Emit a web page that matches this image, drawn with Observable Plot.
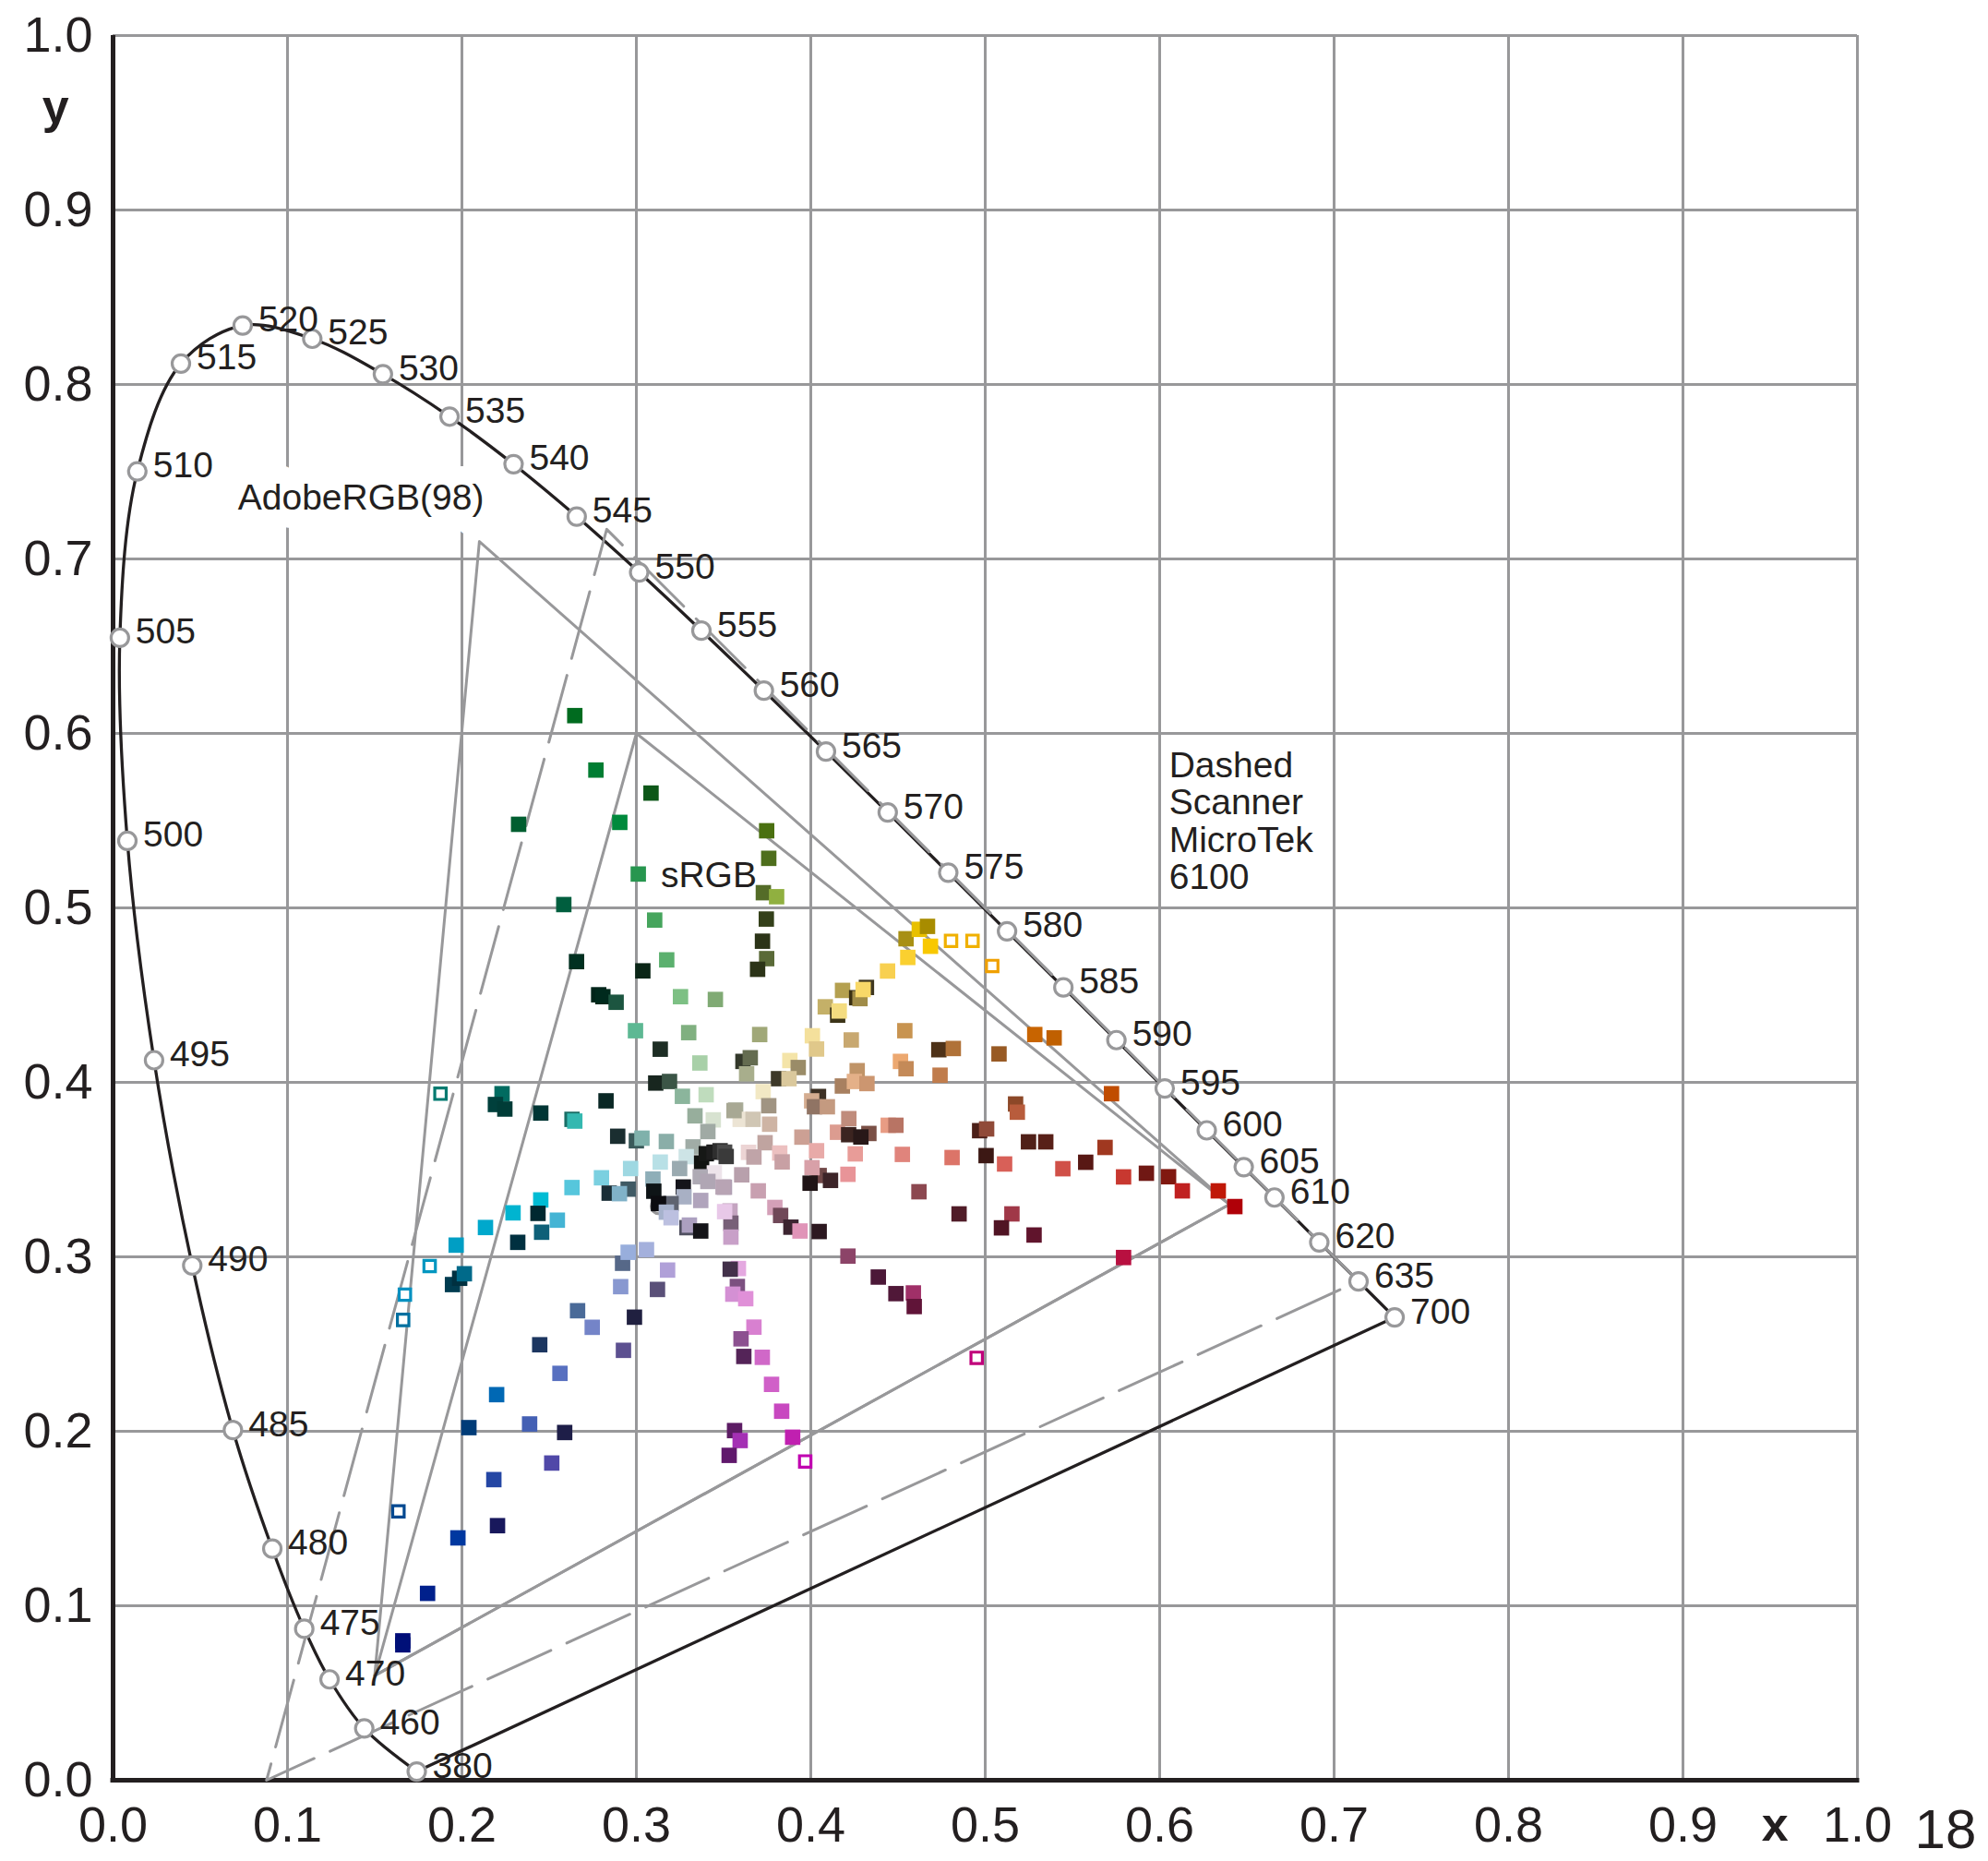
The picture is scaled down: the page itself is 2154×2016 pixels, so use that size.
<!DOCTYPE html>
<html>
<head>
<meta charset="utf-8">
<script src="https://cdn.jsdelivr.net/npm/d3@7"></script>
<script src="https://cdn.jsdelivr.net/npm/@observablehq/plot@0.6"></script>
<style>
  html, body { margin: 0; padding: 0; background: #ffffff; }
  #chart svg { display: block; }
</style>
</head>
<body>
<div id="chart"></div>
<script>
// ---------- spectral locus (CIE 1931 x,y) ----------
const wavelengths = [380,460,470,475,480,485,490,495,500,505,510,515,520,525,530,535,540,545,550,555,560,565,570,575,580,585,590,595,600,605,610,620,635,700];
const locusX = [0.1741,0.1440,0.1241,0.1096,0.0913,0.0687,0.0454,0.0235,0.0082,0.0039,0.0139,0.0389,0.0743,0.1142,0.1547,0.1929,0.2296,0.2658,0.3016,0.3373,0.3731,0.4087,0.4441,0.4788,0.5125,0.5448,0.5752,0.6029,0.6270,0.6482,0.6658,0.6915,0.7140,0.7347];
const locusY = [0.0050,0.0297,0.0578,0.0868,0.1327,0.2007,0.2950,0.4127,0.5384,0.6548,0.7502,0.8120,0.8338,0.8262,0.8059,0.7816,0.7543,0.7243,0.6923,0.6589,0.6245,0.5896,0.5547,0.5202,0.4866,0.4544,0.4242,0.3965,0.3725,0.3514,0.3340,0.3083,0.2859,0.2653];

// ---------- gamut triangles: R, G, B ----------
const gamutNames = ["sRGB", "AdobeRGB(98)", "Scanner MicroTek 6100"];
const gamutRx = [0.640, 0.640, 0.714];
const gamutRy = [0.330, 0.330, 0.286];
const gamutGx = [0.300, 0.210, 0.283];
const gamutGy = [0.600, 0.710, 0.717];
const gamutBx = [0.150, 0.150, 0.088];
const gamutBy = [0.060, 0.060, 0.000];
const gamutDashed = [false, false, true];

// ---------- white point marker ----------
const whiteX = [0.3127];
const whiteY = [0.3290];

// ---------- measured colour samples (filled squares) ----------
const sampleX = [
  0.2647,0.2768,0.3084,0.2325,0.2905,0.3011,0.2584,0.3105,0.2657,0.3174,0.3037,0.2784,0.2808,0.2884,0.3253,0.3453,0.2995,0.3300,0.3137,0.3364,
  0.3747,0.3759,0.3728,0.3804,0.3745,0.3723,0.3747,0.3695,0.3707,
  0.4009,0.4232,0.4083,0.4154,0.4163,0.4182,0.4263,0.4282,0.4319,0.4300,0.4440,0.4556,0.4546,0.4622,0.4669,0.4686,0.4539,0.5284,0.5395,0.5724,
  0.3611,0.3653,0.3632,0.3880,0.3928,0.4033,0.3815,0.3875,0.3727,0.3759,0.3569,0.3595,0.3669,0.3764,0.4044,0.4005,0.4021,0.4095,0.3949,0.3738,
  0.3643,0.3674,0.3822,0.3836,0.3604,0.3505,0.3699,0.3537,0.3542,0.3542,0.3794,0.3827,0.3886,0.3938,0.4048,0.4007,0.3996,0.4113,0.4033,0.4153,
  0.4217,0.4333,0.4287,0.4255,0.4213,0.4181,0.4266,0.4250,0.4322,0.4218,0.4444,0.4488,0.4525,0.4620,0.4514,0.4546,0.4734,0.4817,0.4741,0.5079,
  0.5174,0.5184,0.4968,0.5008,0.5248,0.5347,0.4810,0.5005,0.5111,0.4850,0.5153,0.5093,0.5280,0.4048,0.4213,0.3585,0.3538,0.3579,0.3553,0.3627,
  0.3674,0.3600,0.3616,0.3722,0.4387,0.4488,0.4588,0.4593,
  0.3775,0.3833,0.3563,0.3595,0.3532,0.3896,
  0.5687,0.5445,0.5576,0.5793,0.5924,0.6051,0.6130,0.6336,0.6431,0.5793,
  0.2230,0.2192,0.2246,0.2452,0.2631,0.2647,0.2826,0.3111,0.3190,0.3264,0.3400,0.3336,0.3441,0.3560,0.3410,0.2893,0.3000,0.3032,0.3172,0.3325,
  0.3286,0.3374,0.3401,0.3445,0.3480,0.3506,0.3515,0.3447,0.2967,0.3137,0.3248,0.2800,0.2631,0.3095,0.3366,0.3410,0.3497,0.2844,0.2953,0.2903,
  0.3100,0.3269,0.3273,0.3369,0.3199,0.3127,0.3172,0.3199,0.3506,0.3290,0.3304,0.3369,
  0.2547,0.2452,0.2436,0.2293,0.2457,0.2135,0.2320,0.1967,0.1946,0.1987,0.2014,0.2921,0.2953,0.3058,0.3179,0.2910,0.3121,0.2663,0.2747,0.2989,
  0.2446,0.2926,0.2562,0.2199,0.2040,0.2388,0.2589,
  0.2515,0.2183,0.2204,0.1977,0.1803,0.1661,0.1661
];
const sampleY = [
  0.6102,0.5790,0.5658,0.5479,0.5490,0.5194,0.5019,0.4930,0.4692,0.4702,0.4639,0.4502,0.4491,0.4459,0.4491,0.4475,0.4296,0.4285,0.4190,0.4111,
  0.5442,0.5284,0.5087,0.5064,0.4936,0.4809,0.4709,0.4648,0.4274,
  0.4267,0.4243,0.4433,0.4385,0.4409,0.4527,0.4485,0.4480,0.4544,0.4532,0.4638,0.4716,0.4823,0.4877,0.4894,0.4780,0.4296,0.4274,0.4255,0.3935,
  0.4120,0.4141,0.4049,0.4125,0.4085,0.4191,0.4021,0.4021,0.3947,0.3866,0.3841,0.3788,0.3788,0.3760,0.3919,0.3894,0.3860,0.3860,0.3686,0.3654,
  0.3599,0.3572,0.3595,0.3544,0.3470,0.3399,0.3378,0.3263,0.3193,0.3113,0.3283,0.3237,0.3170,0.3148,0.3466,0.3511,0.3422,0.3438,0.3608,0.3714,
  0.3700,0.3707,0.3687,0.3590,0.3473,0.3979,0.4067,0.4005,0.3993,0.3792,0.3754,0.3754,0.3587,0.3373,0.4120,0.4078,0.4187,0.4194,0.4041,0.4163,
  0.3876,0.3829,0.3723,0.3733,0.3659,0.3659,0.3569,0.3580,0.3532,0.3246,0.3246,0.3166,0.3125,0.3145,0.3004,0.2933,0.2929,0.2830,0.2786,0.2760,
  0.2597,0.2530,0.2429,0.2424,0.2884,0.2789,0.2793,0.2715,
  0.2269,0.2115,0.2004,0.1947,0.1862,0.1966,
  0.3627,0.3505,0.3542,0.3458,0.3479,0.3459,0.3378,0.3378,0.3288,0.2996,
  0.3935,0.3873,0.3847,0.3824,0.3788,0.3778,0.3894,0.3996,0.4005,0.3920,0.3929,0.3808,0.3785,0.3838,0.3718,0.3691,0.3665,0.3680,0.3661,0.3630,
  0.3574,0.3538,0.3591,0.3600,0.3608,0.3600,0.3575,0.3481,0.3506,0.3543,0.3506,0.3453,0.3397,0.3446,0.3459,0.3432,0.3400,0.3365,0.3388,0.3362,
  0.3376,0.3400,0.3344,0.3323,0.3305,0.3305,0.3256,0.3224,0.3259,0.3167,0.3182,0.3148,
  0.3210,0.3326,0.3249,0.3252,0.3141,0.3168,0.3083,0.3067,0.2841,0.2877,0.2903,0.2963,0.3026,0.3041,0.2924,0.2829,0.2813,0.2691,0.2596,0.2654,
  0.2496,0.2464,0.2332,0.2210,0.2021,0.2042,0.1993,
  0.1818,0.1723,0.1459,0.1389,0.1071,0.0799,0.0776
];
const sampleColor = [
  "#006b1f","#007d32","#0d5718","#005e30","#008a3c","#27964f","#005e3e","#46a55d","#003020","#5bb06e","#0b2617","#00251a","#002a1d","#1c5540","#7dc084","#80aa74","#5db893","#80b080","#1d2d24","#a8d0a8",
  "#4a7010","#4e6e1c","#546c28","#90b040","#34401a","#2c3418","#5a6a38","#2c3418","#a0a878",
  "#f4e09c","#c8a870","#c4b068","#3c3418","#f4dc80","#b4a050","#3a3012","#a08c48","#403820","#f8d868","#f8d050","#fad030","#a89014","#e8c000","#a88c00","#f8c800","#c89450","#c86400","#c06000","#c04c00",
  "#33382a","#646c50","#a8ae8c","#f4e4a8","#9a8c68","#e0c88a","#3c3828","#dac89c","#f2e8c4","#a09482","#a8ac98","#ece4d4","#d0c6b4","#ceb4a4","#3c3024","#d4ac90","#907464","#c49a80","#cca094","#c0a4a0",
  "#ecd4d4","#c0a4a8","#ecc0c0","#c8a0a4","#b8a0ac","#b0a0b4","#c8a0b0","#c4a4c0","#786078","#c8a0c8","#d4a0b8","#704858","#3c2430","#e094b8","#704848","#d8a0a8","#201416","#3c2428","#e8aaa8","#dc9c90",
  "#3c2420","#7a5046","#281818","#e89c98","#e89498","#a88060","#c09468","#e4b088","#cc9670","#c08c7c","#e89c84","#b87464","#e0847c","#8c4850","#eca870","#c48a58","#4e3218","#b07238","#c07c4c","#985a24",
  "#8c4828","#b85c3c","#4c2018","#904a38","#502018","#582018","#dc7468","#3c1814","#d86058","#501c28","#a03848","#501424","#60142c","#2c1820","#8c4468","#e4a8e0","#43314a","#7c5080","#d490d4","#e090d8",
  "#d880d0","#8c5090","#542458","#d068c8","#4c1838","#501838","#a03068","#601438",
  "#d060c8","#c848c0","#5c1c64","#a430b4","#60186c","#c020b0",
  "#a03820","#d05048","#581814","#c83830","#701814","#801810","#c02020","#c01808","#b00008","#b81040",
  "#006b60","#00403c","#003c37","#003534","#1a6e66","#34b8b0","#0a2825","#18261f","#3b5546","#8bb59c","#bfdcbd","#97ae9c","#d7e2d0","#a8a894","#a0aaa4","#1a2e30","#3a5a5a","#7fb1ab","#8aaea8","#a0aca6",
  "#cde4e6","#111411","#161816","#1e1e1e","#2e2e2e","#4a4a4a","#3a3a3a","#ede4ea","#9ed8e2","#b8e0e6","#9aaab0","#7bd0e0","#56c6dc","#8eaeb8","#aeaab4","#b0a6b4","#b8a4b4","#1a2e36","#405a64","#80b2c8",
  "#0e1416","#14141a","#a8b0c4","#b0a4bc","#5e6370","#0c0c10","#a6b2cc","#bcc0e0","#e8c8e8","#505060","#aca0c0","#141418",
  "#44b4d4","#00bcd4","#002830","#00b4d0","#0e6078","#00a8cc","#003040","#009ec4","#003c50","#003040","#006a8a","#566888","#98aedc","#a4b0dc","#b0a0d8","#8898d0","#5a5078","#4a6a98","#7484c8","#202040",
  "#1c3660","#5c5090","#5870c0","#0068b4","#003c78","#4460b4","#1e1e48",
  "#5048a8","#2446a4","#18185c","#0038a0","#00208c","#000c78","#001078"
];

// ---------- hollow squares ----------
const hollowX = [0.1877,0.1815,0.1673,0.1663,0.1636,0.4804,0.4927,0.5040,0.4951,0.3968];
const hollowY = [0.3935,0.2947,0.2783,0.2638,0.1541,0.4811,0.4811,0.4667,0.2421,0.1827];
const hollowColor = ["#007a70","#0096c0","#0090c0","#0070a0","#004890","#f0b000","#f0b000","#f0a000","#c0007a","#c000b0"];

// ---------- axis ticks ----------
const tickValues = [0,0.1,0.2,0.3,0.4,0.5,0.6,0.7,0.8,0.9,1.0];

// ---------- annotations ----------
const labelText = ["sRGB", "Dashed\nScanner\nMicroTek\n6100"];
const labelX = [0.3140, 0.6054];
const labelY = [0.5187, 0.5497];
const adobeLabel = ["AdobeRGB(98)"];
const adobeLabelX = [0.1421];
const adobeLabelY = [0.735];
const axisTitle = ["x", "y"];
const axisTitleX = [0.9527, -0.0330];
const axisTitleY = [-0.0259, 0.9590];
const pageNumber = ["18"];
const pageNumberX = [1.0505];
const pageNumberY = [-0.0285];

// ---------- build tables ----------
const locus = wavelengths.map((w, i) => ({w, x: locusX[i], y: locusY[i]}));
const purple = [{x1: locusX[0], y1: locusY[0], x2: locusX[locusX.length - 1], y2: locusY[locusY.length - 1]}];
const gamutRows = [];
gamutNames.forEach((g, i) => {
  const pts = [[gamutRx[i], gamutRy[i]], [gamutGx[i], gamutGy[i]], [gamutBx[i], gamutBy[i]], [gamutRx[i], gamutRy[i]]];
  pts.forEach(([x, y]) => gamutRows.push({g, x, y, dashed: gamutDashed[i]}));
});
const samples = sampleX.map((x, i) => ({x, y: sampleY[i], c: sampleColor[i]}));
const hollow = hollowX.map((x, i) => ({x, y: hollowY[i], c: hollowColor[i]}));
const labels = labelText.map((t, i) => ({t, x: labelX[i], y: labelY[i]}));
const adobe = adobeLabel.map((t, i) => ({t, x: adobeLabelX[i], y: adobeLabelY[i]}));
const titles = axisTitle.map((t, i) => ({t, x: axisTitleX[i], y: axisTitleY[i]}));
const page = pageNumber.map((t, i) => ({t, x: pageNumberX[i], y: pageNumberY[i]}));
const white = whiteX.map((x, i) => ({x, y: whiteY[i]}));

const ink = "#231f20";
const gray = "#98989a";

const chart = Plot.plot({
  width: 2154,
  height: 2016,
  marginLeft: 122,
  marginRight: 142,
  marginTop: 38,
  marginBottom: 88,
  style: {fontFamily: "'Liberation Sans', Arial, Helvetica, sans-serif", fontSize: "54px", color: ink, background: "#ffffff"},
  x: {domain: [0, 1], label: null},
  y: {domain: [0, 1], label: null},
  color: {type: "identity"},
  marks: [
    Plot.gridX(tickValues, {stroke: gray, strokeOpacity: 1, strokeWidth: 3}),
    Plot.gridY(tickValues, {stroke: gray, strokeOpacity: 1, strokeWidth: 3}),
    Plot.text(adobe, {x: "x", y: "y", text: "t", fontSize: 39, fill: ink, stroke: "white", strokeWidth: 40, strokeLinejoin: "round", textAnchor: "middle", lineAnchor: "middle"}),
    Plot.ruleX([0], {y1: 0, y2: 1, stroke: ink, strokeWidth: 5}),
    Plot.ruleY([0], {x1: -0.0013, x2: 1.0013, stroke: ink, strokeWidth: 5}),
    Plot.axisX(tickValues, {tickSize: 0, tickPadding: 28, tickFormat: ".1f", fontSize: 54, fill: ink, label: null}),
    Plot.axisY(tickValues, {tickSize: 0, tickPadding: 22, tickFormat: ".1f", fontSize: 54, fill: ink, label: null}),
    Plot.line(locus, {x: "x", y: "y", curve: "catmull-rom", stroke: ink, strokeWidth: 3.3}),
    Plot.link(purple, {x1: "x1", y1: "y1", x2: "x2", y2: "y2", stroke: ink, strokeWidth: 3.3}),
    Plot.line(gamutRows.filter(d => !d.dashed), {x: "x", y: "y", z: "g", stroke: gray, strokeWidth: 3}),
    Plot.line(gamutRows.filter(d => d.dashed), {x: "x", y: "y", z: "g", stroke: gray, strokeWidth: 3, strokeDasharray: "75 19"}),
    Plot.dot(white, {x: "x", y: "y", r: 8, fill: "white", stroke: gray, strokeWidth: 3}),
    Plot.dot(samples, {x: "x", y: "y", symbol: "square", r: 9.4, fill: "c"}),
    Plot.dot(hollow, {x: "x", y: "y", symbol: "square", r: 7, fill: "white", stroke: "c", strokeWidth: 3.2}),
    Plot.dot(locus, {x: "x", y: "y", r: 9.5, fill: "white", stroke: gray, strokeWidth: 3.2}),
    Plot.text(locus, {x: "x", y: "y", text: d => String(d.w), dx: 17, dy: -6, textAnchor: "start", lineAnchor: "middle", fontSize: 39, fill: ink}),
    Plot.text(labels, {x: "x", y: "y", text: "t", fontSize: 39, lineHeight: 1.03, textAnchor: "start", lineAnchor: "middle", fill: ink}),
    Plot.text(titles, {x: "x", y: "y", text: "t", fontSize: 52, fontWeight: "bold", textAnchor: "middle", lineAnchor: "middle", fill: ink}),
    Plot.text(page, {x: "x", y: "y", text: "t", fontSize: 60, textAnchor: "middle", lineAnchor: "middle", fill: ink})
  ]
});
document.getElementById("chart").appendChild(chart);
</script>
</body>
</html>
